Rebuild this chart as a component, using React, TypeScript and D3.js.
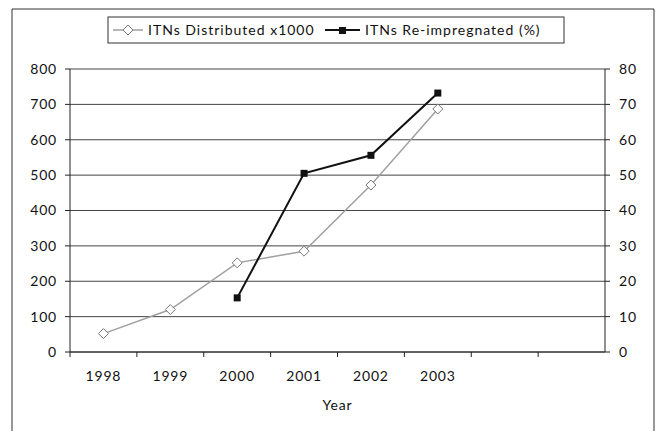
import * as d3 from 'd3';
import React from 'react';

const WIDTH = 657;
const HEIGHT = 431;
const MARGIN = { top: 69, right: 52, bottom: 79, left: 70 };

// categories (last two are empty slots on the axis)
const years = ['1998', '1999', '2000', '2001', '2002', '2003', '', ' '];
const distributed = [
  { year: '1998', value: 52 },
  { year: '1999', value: 120 },
  { year: '2000', value: 252 },
  { year: '2001', value: 285 },
  { year: '2002', value: 472 },
  { year: '2003', value: 687 },
];
const reimpregnated = [
  { year: '2000', value: 15.3 },
  { year: '2001', value: 50.5 },
  { year: '2002', value: 55.6 },
  { year: '2003', value: 73.2 },
];
const leftTicks = [0, 100, 200, 300, 400, 500, 600, 700, 800];
const rightTicks = [0, 10, 20, 30, 40, 50, 60, 70, 80];

const FONT = 'Lato, "Open Sans", sans-serif';
const FS = 14;
const LS = 0.8;

export default function App() {
  const boundsWidth = WIDTH - MARGIN.left - MARGIN.right;
  const boundsHeight = HEIGHT - MARGIN.top - MARGIN.bottom;

  const xScale = d3.scaleBand().domain(years).range([0, boundsWidth]);
  const yLeft = d3.scaleLinear().domain([0, 800]).range([boundsHeight, 0]);
  const yRight = d3.scaleLinear().domain([0, 80]).range([boundsHeight, 0]);
  const cx = (y: string) => (xScale(y) ?? 0) + xScale.bandwidth() / 2;

  const lineLeft = d3
    .line<{ year: string; value: number }>()
    .x(d => cx(d.year))
    .y(d => yLeft(d.value));
  const lineRight = d3
    .line<{ year: string; value: number }>()
    .x(d => cx(d.year))
    .y(d => yRight(d.value));

  const diamond = (x: number, y: number, r = 5) =>
    `M${x},${y - r}L${x + r},${y}L${x},${y + r}L${x - r},${y}Z`;

  return (
    <svg width={WIDTH} height={HEIGHT} style={{ position: 'absolute', left: 0, top: 0 }}>
      <rect width={WIDTH} height={HEIGHT} fill="white" />
      {/* outer frame, open at the bottom */}
      <path d="M12,431V9H654V431" fill="none" stroke="#333" strokeWidth={1} />

      <g transform={`translate(${MARGIN.left},${MARGIN.top})`}>
        {leftTicks.map(t => (
          <line
            key={t}
            x1={0}
            x2={boundsWidth}
            y1={yLeft(t)}
            y2={yLeft(t)}
            stroke="#444"
            strokeWidth={1}
          />
        ))}
        {/* axes */}
        <line x1={0} x2={0} y1={0} y2={boundsHeight} stroke="#222" />
        <line x1={boundsWidth} x2={boundsWidth} y1={0} y2={boundsHeight} stroke="#222" />
        <line x1={0} x2={boundsWidth} y1={boundsHeight} y2={boundsHeight} stroke="#222" />

        {leftTicks.map(t => (
          <g key={t} transform={`translate(0,${yLeft(t)})`}>
            <line x1={-5} x2={0} stroke="#222" />
            <text x={-13} dy="0.35em" textAnchor="end" fontSize={FS} fontFamily={FONT} fill="#111" letterSpacing={LS}>
              {t}
            </text>
          </g>
        ))}
        {rightTicks.map(t => (
          <g key={t} transform={`translate(${boundsWidth},${yRight(t)})`}>
            <line x1={0} x2={5} stroke="#222" />
            <text x={14} dy="0.35em" textAnchor="start" fontSize={FS} fontFamily={FONT} fill="#111" letterSpacing={LS}>
              {t}
            </text>
          </g>
        ))}
        {years.map((y, i) => (
          <line
            key={'t' + i}
            x1={xScale(y)}
            x2={xScale(y)}
            y1={boundsHeight}
            y2={boundsHeight + 5}
            stroke="#222"
          />
        ))}
        {years
          .filter(y => y.trim() !== '')
          .map(y => (
            <text
              key={y}
              x={cx(y)}
              y={boundsHeight + 29}
              textAnchor="middle"
              fontSize={FS}
              fontFamily={FONT}
              fill="#111"
              letterSpacing={LS}
            >
              {y}
            </text>
          ))}
        <text
          x={boundsWidth / 2}
          y={boundsHeight + 58}
          textAnchor="middle"
          fontSize={FS}
          fontFamily={FONT}
          fill="#111"
          letterSpacing={LS}
        >
          Year
        </text>

        {/* series */}
        <path d={lineLeft(distributed) ?? ''} fill="none" stroke="#a0a0a0" strokeWidth={1.5} />
        {distributed.map(d => (
          <path
            key={d.year}
            d={diamond(cx(d.year), yLeft(d.value))}
            fill="white"
            stroke="#777"
            strokeWidth={1}
          />
        ))}
        <path d={lineRight(reimpregnated) ?? ''} fill="none" stroke="#111" strokeWidth={2} />
        {reimpregnated.map(d => (
          <rect
            key={d.year}
            x={cx(d.year) - 3.5}
            y={yRight(d.value) - 3.5}
            width={7}
            height={7}
            fill="#111"
          />
        ))}
      </g>

      {/* legend */}
      <g>
        <rect x={108} y={17} width={456} height={26} fill="white" stroke="#333" />
        <line x1={113} x2={143} y1={30} y2={30} stroke="#a0a0a0" strokeWidth={1.5} />
        <path d={diamond(128, 30)} fill="white" stroke="#777" />
        <text x={148} y={30} dy="0.35em" fontSize={FS} fontFamily={FONT} fill="#111" letterSpacing={1}>
          ITNs Distributed x1000
        </text>
        <line x1={325} x2={360} y1={30} y2={30} stroke="#111" strokeWidth={2} />
        <rect x={339} y={27} width={7} height={7} fill="#111" />
        <text x={365} y={30} dy="0.35em" fontSize={FS} fontFamily={FONT} fill="#111" letterSpacing={1}>
          ITNs Re-impregnated (%)
        </text>
      </g>
    </svg>
  );
}
